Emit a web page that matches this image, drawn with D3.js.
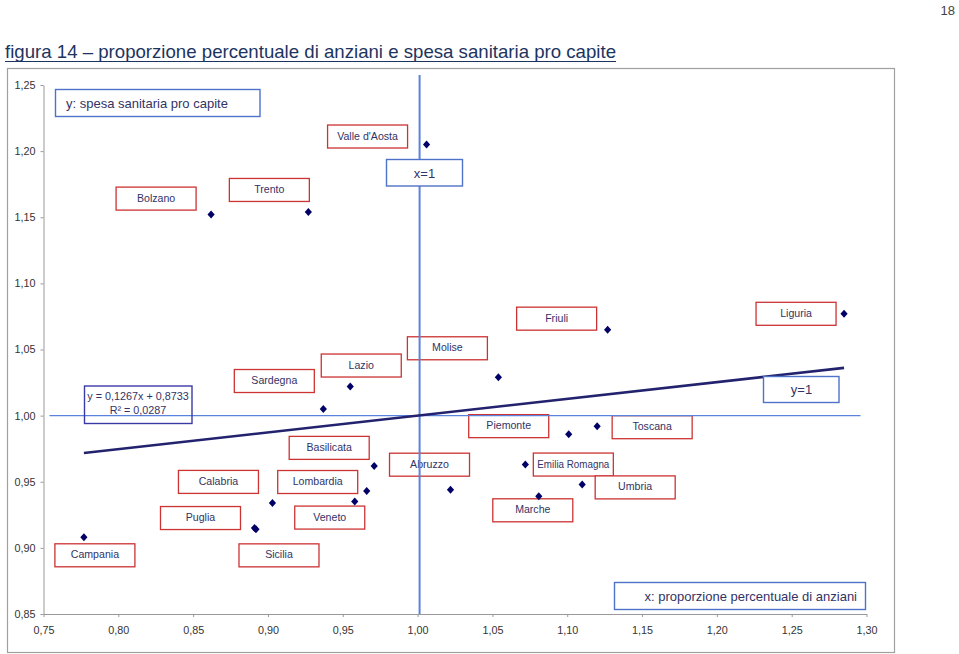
<!DOCTYPE html>
<html><head><meta charset="utf-8">
<script src="https://cdn.jsdelivr.net/npm/d3@7"></script>
<style>
body{margin:0;background:#fff}
svg{display:block}
text{font-family:"Liberation Sans",Arial,Helvetica,sans-serif}
</style>
</head><body>
<svg id="c" width="959" height="654"></svg>
<script>
// ---------- DATA ----------
const regions = ["Valle d'Aosta","Bolzano","Trento","Friuli","Liguria","Molise","Lazio","Sardegna",
  "Piemonte","Toscana","Basilicata","Abruzzo","Emilia Romagna","Umbria","Marche","Calabria",
  "Lombardia","Veneto","Puglia","Sicilia","Campania"];
const propAnziani = [1.006,0.862,0.927,1.127,1.285,1.054,0.955,0.937,
  1.101,1.120,0.971,1.022,1.072,1.110,1.081,0.903,
  0.966,0.958,0.891,0.892,0.777];
const spesaPC = [1.205,1.152,1.154,1.065,1.077,1.029,1.022,1.005,
  0.986,0.992,0.962,0.944,0.963,0.948,0.939,0.934,
  0.943,0.935,0.915,0.914,0.908];
const xTicks = [0.75,0.80,0.85,0.90,0.95,1.00,1.05,1.10,1.15,1.20,1.25,1.30];
const yTicks = [0.85,0.90,0.95,1.00,1.05,1.10,1.15,1.20,1.25];
const trendSlope = 0.1267, trendIntercept = 0.8733;
const eqLines = ["y = 0,1267x + 0,8733", "R² = 0,0287"];
const titleText = "figura 14 – proporzione percentuale di anziani e spesa sanitaria pro capite";
const yTitle = "y: spesa sanitaria pro capite";
const xTitle = "x: proporzione percentuale di anziani";
const pageNumber = "18";
const refX = 1, refY = 1;

// ---------- LAYOUT (label offsets from point, px) ----------
const labelOffsets = [[-59,-8],[-55,-16],[-39,-22],[-51,-11],[-48,0],[-51,-29],[11,-21],[-49,-28],
  [-60,-8],[55,1],[-45,-18],[-21,-25],[48,0],[53,3],[-6,14],[-54,-21],
  [-49,-9],[-25,16],[-54,-10],[23,26],[11,18]];
const labelWidths = {"Veneto":70};

const svg = d3.select("#c");
const M = {l:43.5, r:866.5, t:85, b:614};
const x = d3.scaleLinear().domain([0.75,1.30]).range([M.l,M.r]);
const y = d3.scaleLinear().domain([0.85,1.25]).range([M.b,M.t]);
const fmt = d => d3.format(".2f")(d).replace(".",",");

// page number
svg.append("text").attr("x",955).attr("y",15).attr("text-anchor","end")
  .attr("font-size",13).attr("fill","#444").text(pageNumber);

// title
svg.append("text").attr("x",5).attr("y",58).attr("font-size",18.5).attr("fill","#1d3461")
  .attr("textLength",611).attr("lengthAdjust","spacingAndGlyphs").text(titleText);
svg.append("line").attr("x1",5).attr("x2",616).attr("y1",61.5).attr("y2",61.5)
  .attr("stroke","#1d3461").attr("stroke-width",1.2);

// chart frame
svg.append("rect").attr("x",7.5).attr("y",68.5).attr("width",887).attr("height",584)
  .attr("fill","#fff").attr("stroke","#a0a0a0").attr("stroke-width",1.2);

// axes
const gx = svg.append("g").attr("transform",`translate(0,${M.b})`)
  .call(d3.axisBottom(x).tickValues(xTicks).tickFormat(fmt).tickSize(3).tickSizeOuter(0).tickPadding(9));
const gy = svg.append("g").attr("transform",`translate(${M.l},0)`)
  .call(d3.axisLeft(y).tickValues(yTicks).tickFormat(fmt).tickSize(3).tickSizeOuter(0).tickPadding(5));
[gx,gy].forEach(g=>{
  g.select(".domain").attr("stroke","#999");
  g.selectAll(".tick line").attr("stroke","#999");
  g.selectAll("text").attr("fill","#333").attr("font-size",10.8)
   .attr("font-family","'Liberation Sans',Arial,sans-serif");
});

// region label boxes
const lab = svg.append("g");
regions.forEach((r,i)=>{
  const w = labelWidths[r] || 80, h = 23;
  const cx = x(propAnziani[i]) + labelOffsets[i][0];
  const cy = y(spesaPC[i]) + labelOffsets[i][1];
  lab.append("rect").attr("x",cx-w/2).attr("y",cy-h/2).attr("width",w).attr("height",h)
    .attr("fill","#fff").attr("stroke","#cc3333").attr("stroke-width",1.3);
  const t = lab.append("text").attr("x",cx).attr("y",cy+3).attr("text-anchor","middle")
    .attr("font-size",10.6).attr("fill","#333366").text(r);
  const tw = t.node().getComputedTextLength();
  if (tw > w - 8) t.attr("textLength", w - 8).attr("lengthAdjust","spacingAndGlyphs");
});

// reference lines
svg.append("line").attr("x1",x(0.754)).attr("x2",x(1.296)).attr("y1",y(refY)).attr("y2",y(refY))
  .attr("stroke","#5b82dc").attr("stroke-width",1.3);
svg.append("line").attr("x1",x(refX)+2).attr("x2",x(refX)+2).attr("y1",75).attr("y2",M.b)
  .attr("stroke","#5b82dc").attr("stroke-width",2);

// trend line
const ext = d3.extent(propAnziani);
svg.append("line").attr("x1",x(ext[0])).attr("x2",x(ext[1]))
  .attr("y1",y(trendSlope*ext[0]+trendIntercept)).attr("y2",y(trendSlope*ext[1]+trendIntercept))
  .attr("stroke","#22226e").attr("stroke-width",2.6);

// points
svg.append("g").selectAll("path").data(regions).join("path")
  .attr("transform",(d,i)=>`translate(${x(propAnziani[i])},${y(spesaPC[i])})`)
  .attr("d","M0,-4L3.6,0L0,4L-3.6,0Z").attr("fill","#000066");

// blue annotation boxes
function blueBox(x0,y0,w,h,stroke,fill){
  svg.append("rect").attr("x",x0).attr("y",y0).attr("width",w).attr("height",h)
    .attr("fill",fill).attr("stroke",stroke).attr("stroke-width",1.4);
}
// y title
blueBox(55.5,89.5,204.5,27,"#4f72c9","#fff");
svg.append("text").attr("x",66).attr("y",108).attr("font-size",13).attr("fill","#333366").text(yTitle);
// x=1
blueBox(386.5,159.5,76,26.5,"#4f72c9","#fff");
svg.append("text").attr("x",424.5).attr("y",177.5).attr("text-anchor","middle").attr("font-size",13)
  .attr("fill","#333366").text("x="+refX);
// y=1
blueBox(763.5,376.5,75.5,26,"#4f72c9","#fff");
svg.append("text").attr("x",801.5).attr("y",394).attr("text-anchor","middle").attr("font-size",13)
  .attr("fill","#333366").text("y="+refY);
// x title
blueBox(614.5,582.5,251,27,"#4f72c9","#fff");
svg.append("text").attr("x",857).attr("y",600.5).attr("text-anchor","end").attr("font-size",13)
  .attr("fill","#333366").text(xTitle);
// equation box
blueBox(84.5,386,107.5,37.5,"#3a3aa6","none");
eqLines.forEach((t,i)=>{
  svg.append("text").attr("x",138).attr("y",400+i*13.7).attr("text-anchor","middle")
    .attr("font-size",10.8).attr("fill","#333366").text(t);
});
</script>
</body></html>
